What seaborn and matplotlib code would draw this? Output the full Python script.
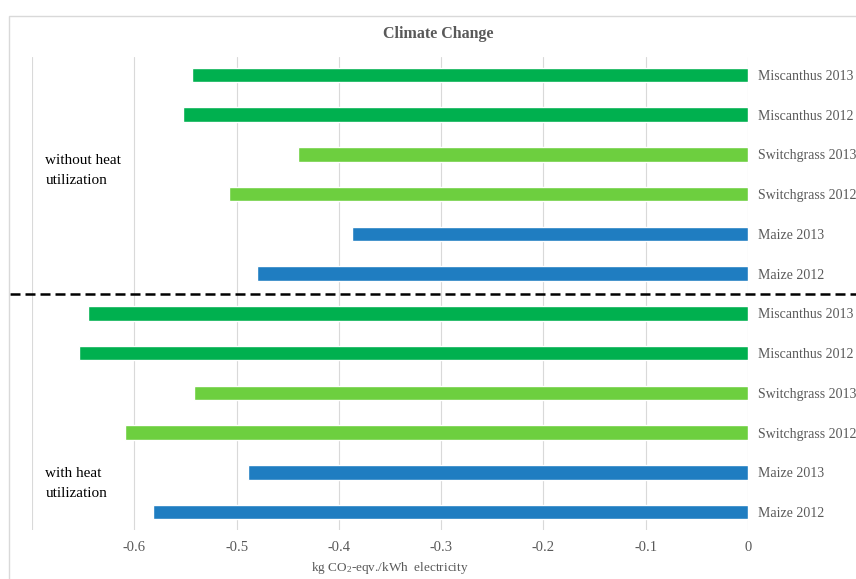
import matplotlib
matplotlib.use("Agg")
import matplotlib.pyplot as plt
import matplotlib.patches as mpatches
import pandas as pd
import seaborn as sns

sns.set_theme(style="white")
plt.rcParams["font.family"] = ["Liberation Serif", "DejaVu Serif"]
plt.rcParams["mathtext.default"] = "regular"

GRAY_TEXT = "#595959"
GRID = "#d9d9d9"

# top to bottom, as in the picture
crops = ["Miscanthus", "Miscanthus", "Switchgrass", "Switchgrass", "Maize", "Maize"] * 2
years = ["2013", "2012"] * 6
scenario = ["without"] * 6 + ["with"] * 6
values = [-0.544, -0.552, -0.440, -0.507, -0.387, -0.480,
          -0.645, -0.654, -0.542, -0.609, -0.489, -0.582]

palette = {"Miscanthus": "#00b04f", "Switchgrass": "#6dcf3f", "Maize": "#1f7dc1"}

xtick_values = [-0.7, -0.6, -0.5, -0.4, -0.3, -0.2, -0.1, 0]
xtick_labels = ["", "-0.6", "-0.5", "-0.4", "-0.3", "-0.2", "-0.1", "0"]

df = pd.DataFrame({"crop": crops, "year": years, "scenario": scenario, "value": values})
df["row"] = df["scenario"] + " " + df["crop"] + " " + df["year"]
df["label"] = df["crop"] + " " + df["year"]

fig = plt.figure(figsize=(8.56, 5.79), dpi=100)
ax = fig.add_axes([32 / 856, 1 - 530 / 579, (748 - 32) / 856, (530 - 57) / 579])

sns.barplot(data=df, x="value", y="row", hue="crop", palette=palette, dodge=False,
            orient="h", width=0.36, ax=ax, legend=False, saturation=1)

ax.set_xlim(-0.7, 0)
ax.set_ylim(len(df) - 0.55, -0.45)
ax.set_xticks(xtick_values)
ax.set_xticklabels(xtick_labels)
ax.grid(axis="x", color=GRID, linewidth=0.8)
ax.set_axisbelow(True)
for s in ax.spines.values():
    s.set_visible(False)

ax.yaxis.tick_right()
ax.set_yticks(range(len(df)))
ax.set_yticklabels(df["label"])
ax.tick_params(axis="y", length=0, pad=7, labelsize=10, labelcolor=GRAY_TEXT)
ax.tick_params(axis="x", length=0, pad=8, labelsize=10.5, labelcolor=GRAY_TEXT)
ax.set_xlabel("")
ax.set_ylabel("")

# separator between the two scenarios
ax.plot([-0.031, 1.2], [5.5, 5.5], transform=ax.get_yaxis_transform(), clip_on=False,
        color="black", linestyle=(0, (4, 2)), linewidth=1.8)

ax.text(-0.687, 2.0, "without heat\nutilization", fontsize=11, color="black",
        va="top", ha="left", linespacing=1.65, zorder=5)
ax.text(-0.687, 9.87, "with heat\nutilization", fontsize=11, color="black",
        va="top", ha="left", linespacing=1.65, zorder=5)

fig.text(438 / 856, 1 - 34 / 579, "Climate Change", ha="center", va="center",
         fontsize=11.5, fontweight="bold", color=GRAY_TEXT)
fig.text(390 / 856, 1 - 568 / 579, "kg CO$_2$-eqv./kWh  electricity", ha="center",
         va="center", fontsize=9.5, color=GRAY_TEXT)

fig.patches.append(mpatches.Rectangle((9 / 856, -0.05), 1.1, 1 - 16 / 579 + 0.05,
                                      transform=fig.transFigure, fill=False,
                                      edgecolor=GRID, linewidth=1))

fig.savefig("out.png", dpi=100)
